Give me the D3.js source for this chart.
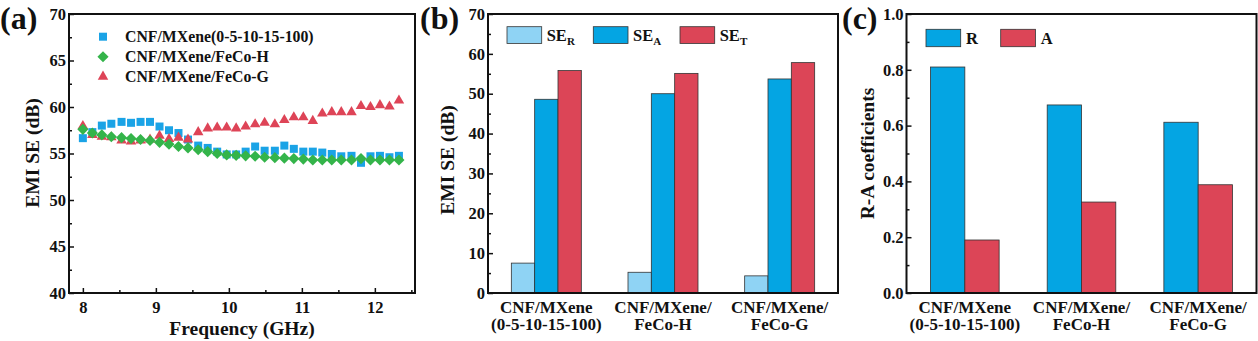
<!DOCTYPE html>
<html>
<head>
<meta charset="utf-8">
<script src="https://cdn.jsdelivr.net/npm/d3@7"></script>
<style>
  body { margin: 0; background: #fff; }
  svg text { font-family: "Liberation Serif", "Times New Roman", serif; font-weight: bold; fill: #111; }
  .tick text { font-size: 16.5px; }
</style>
</head>
<body>
<svg id="chart" width="1258" height="341"></svg>
<script>
// (a) EMI SE vs frequency
const freq = [8.00, 8.13, 8.26, 8.39, 8.53, 8.66, 8.79, 8.92, 9.05, 9.18, 9.31, 9.44, 9.58, 9.71, 9.84, 9.97, 10.10,
  10.23, 10.36, 10.49, 10.63, 10.76, 10.89, 11.02, 11.15, 11.28, 11.41, 11.54, 11.68, 11.81, 11.94, 12.07, 12.20, 12.33]
const seMXene = [56.65, 57.3, 58.0, 58.2, 58.4, 58.3, 58.4, 58.4, 57.9, 57.5, 57.2, 56.5, 55.85, 55.6, 55.2, 54.9, 54.9,
  55.2, 55.75, 55.3, 55.3, 55.85, 55.5, 55.2, 55.2, 55.1, 54.95, 54.7, 54.75, 54.0, 54.7, 54.75, 54.6, 54.75]
const seFeCoH = [57.6, 57.2, 57.0, 56.8, 56.7, 56.6, 56.5, 56.4, 56.2, 56.0, 55.75, 55.6, 55.4, 55.2, 55.0, 54.85, 54.8,
  54.75, 54.7, 54.6, 54.55, 54.5, 54.45, 54.4, 54.3, 54.3, 54.3, 54.3, 54.3, 54.45, 54.3, 54.3, 54.3, 54.3]
const seFeCoG = [57.95, 57.0, 56.8, 56.75, 56.4, 56.3, 56.4, 56.5, 56.9, 56.55, 56.7, 56.5, 57.3, 57.7, 57.8, 57.8, 57.7,
  57.9, 58.15, 58.3, 58.15, 58.6, 58.9, 58.9, 58.5, 59.3, 59.45, 59.45, 59.45, 60.1, 60.0, 60.2, 60.05, 60.7]
const seriesNames = ['CNF/MXene(0-5-10-15-100)', 'CNF/MXene/FeCo-H', 'CNF/MXene/FeCo-G']

// (b) and (c) bars
const samples = [['CNF/MXene', '(0-5-10-15-100)'], ['CNF/MXene/', 'FeCo-H'], ['CNF/MXene/', 'FeCo-G']]
const seR = [7.5, 5.2, 4.3]
const seA = [48.6, 50.0, 53.7]
const seT = [55.8, 55.1, 57.8]
const coefR = [0.81, 0.674, 0.612]
const coefA = [0.19, 0.326, 0.388]

const blue = '#1aa3e6', green = '#34b44a', red = '#de4457'
const lightBlue = '#8fd3f4', barBlue = '#04a5e3', barRed = '#dc4557'

const svg = d3.select('#chart')
const plotTop = 14, plotBottom = 293

const frame = (x0, x1) => {
  svg.append('rect').attr('x', x0).attr('y', plotTop).attr('width', x1 - x0).attr('height', plotBottom - plotTop)
    .attr('fill', 'none').attr('stroke', '#111').attr('stroke-width', 2)
}

const leftAxis = (scale, x, major, minor, fmt) => {
  const g = svg.append('g').attr('transform', 'translate(' + x + ',0)')
  g.call(d3.axisLeft(scale).tickValues(major).tickSize(-5).tickPadding(3).tickFormat(fmt))
  g.append('g').call(d3.axisLeft(scale).tickValues(minor).tickSize(-3).tickFormat(''))
  g.selectAll('.domain').remove()
  g.selectAll('line').attr('stroke', '#111').attr('stroke-width', 1.5)
}

const panelLabel = (txt, x) => {
  svg.append('text').attr('x', x).attr('y', 29).attr('font-size', 32).text(txt)
}

const yTitle = (txt, x, y) => {
  svg.append('text').attr('transform', 'translate(' + x + ',' + y + ') rotate(-90)')
    .attr('text-anchor', 'middle').attr('dy', '0.35em').attr('font-size', 19.5).text(txt)
}

// ---------- panel (a) ----------
const xA = d3.scaleLinear().domain([7.81, 12.55]).range([69, 415])
const yA = d3.scaleLinear().domain([40, 70]).range([plotBottom, plotTop])

leftAxis(yA, 69, [40, 45, 50, 55, 60, 65, 70], [42.5, 47.5, 52.5, 57.5, 62.5, 67.5], d3.format('d'))
const gx = svg.append('g').attr('transform', 'translate(0,' + plotBottom + ')')
gx.call(d3.axisBottom(xA).tickValues([8, 9, 10, 11, 12]).tickSize(-5).tickPadding(8).tickFormat(d3.format('d')))
gx.append('g').call(d3.axisBottom(xA).tickValues([8.5, 9.5, 10.5, 11.5, 12.5]).tickSize(-3).tickFormat(''))
gx.selectAll('.domain').remove()
gx.selectAll('line').attr('stroke', '#111').attr('stroke-width', 1.5)

const square = d3.symbol().type(d3.symbolSquare).size(64)
const diamond = d3.symbol().type(d3.symbolSquare).size(62)
const triangle = d3.symbol().type(d3.symbolTriangle).size(48)

svg.append('g').selectAll('path').data(freq).enter().append('path')
  .attr('d', square).attr('fill', blue)
  .attr('transform', (d, i) => 'translate(' + xA(d) + ',' + yA(seMXene[i]) + ')')
svg.append('g').selectAll('path').data(freq).enter().append('path')
  .attr('d', triangle).attr('fill', red)
  .attr('transform', (d, i) => 'translate(' + xA(d) + ',' + yA(seFeCoG[i]) + ')')
svg.append('g').selectAll('path').data(freq).enter().append('path')
  .attr('d', diamond).attr('fill', green)
  .attr('transform', (d, i) => 'translate(' + xA(d) + ',' + yA(seFeCoH[i]) + ') rotate(45)')

const legA = [[square, blue, 0], [diamond, green, 45], [triangle, red, 0]]
legA.forEach((m, i) => {
  const y = 36.7 + i * 20
  svg.append('path').attr('d', m[0]).attr('fill', m[1])
    .attr('transform', 'translate(103,' + y + ') rotate(' + m[2] + ')')
  svg.append('text').attr('x', 125).attr('y', y).attr('dy', '0.35em').attr('font-size', 15.8).text(seriesNames[i])
})

frame(69, 415)
panelLabel('(a)', 0)
yTitle('EMI SE (dB)', 32, 153)
svg.append('text').attr('x', 242).attr('y', 335).attr('text-anchor', 'middle').attr('font-size', 19.5).text('Frequency (GHz)')

// ---------- panel (b) ----------
const xB = d3.scaleLinear().domain([0.5, 3.5]).range([488, 838])
const yB = d3.scaleLinear().domain([0, 70]).range([plotBottom, plotTop])
leftAxis(yB, 488, d3.range(0, 71, 10), d3.range(5, 70, 10), d3.format('d'))

const seriesB = [[seR, lightBlue, -0.3], [seA, barBlue, -0.1], [seT, barRed, 0.1]]
seriesB.forEach(s => {
  svg.append('g').selectAll('rect').data(s[0]).enter().append('rect')
    .attr('x', (d, i) => xB(i + 1 + s[2]))
    .attr('width', xB(0.7) - xB(0.5))
    .attr('y', d => yB(d))
    .attr('height', d => yB(0) - yB(d))
    .attr('fill', s[1]).attr('stroke', '#333').attr('stroke-width', 0.8)
})

const legB = [['R', lightBlue, 507], ['A', barBlue, 593.3], ['T', barRed, 680]]
legB.forEach(l => {
  svg.append('rect').attr('x', l[2]).attr('y', 26.7).attr('width', 34.7).attr('height', 16.7)
    .attr('fill', l[1]).attr('stroke', '#333').attr('stroke-width', 0.8)
  const t = svg.append('text').attr('x', l[2] + 39.7).attr('y', 40.5).attr('font-size', 16.5)
  t.append('tspan').text('SE')
  t.append('tspan').attr('font-size', 11).attr('dy', 4).text(l[0])
})

frame(488, 838)
panelLabel('(b)', 420)
yTitle('EMI SE (dB)', 447.5, 160)

// ---------- panel (c) ----------
const xC = d3.scaleLinear().domain([0.5, 3.5]).range([906.5, 1256.5])
const yC = d3.scaleLinear().domain([0, 1]).range([plotBottom, plotTop])
leftAxis(yC, 906.5, [0, 0.2, 0.4, 0.6, 0.8, 1.0], [0.1, 0.3, 0.5, 0.7, 0.9], d3.format('.1f'))

const bw = 0.294
const seriesC = [[coefR, barBlue, -bw], [coefA, barRed, 0]]
seriesC.forEach(s => {
  svg.append('g').selectAll('rect').data(s[0]).enter().append('rect')
    .attr('x', (d, i) => xC(i + 1 + s[2]))
    .attr('width', xC(0.5 + bw) - xC(0.5))
    .attr('y', d => yC(d))
    .attr('height', d => yC(0) - yC(d))
    .attr('fill', s[1]).attr('stroke', '#333').attr('stroke-width', 0.8)
})

const legC = [['R', barBlue, 926], ['A', barRed, 1000.7]]
legC.forEach(l => {
  svg.append('rect').attr('x', l[2]).attr('y', 29.3).attr('width', 34.7).attr('height', 17.4)
    .attr('fill', l[1]).attr('stroke', '#333').attr('stroke-width', 0.8)
  svg.append('text').attr('x', l[2] + 40).attr('y', 38).attr('dy', '0.35em').attr('font-size', 16.5).text(l[0])
})

frame(906.5, 1256.5)
panelLabel('(c)', 842)
yTitle('R-A coefficients', 867.5, 153.5)

// category labels under (b) and (c)
;[xB, xC].forEach(sc => {
  samples.forEach((lines, i) => {
    lines.forEach((ln, j) => {
      svg.append('text').attr('x', sc(i + 1)).attr('y', 313 + j * 17)
        .attr('text-anchor', 'middle').attr('font-size', 17).text(ln)
    })
  })
})
</script>
</body>
</html>
